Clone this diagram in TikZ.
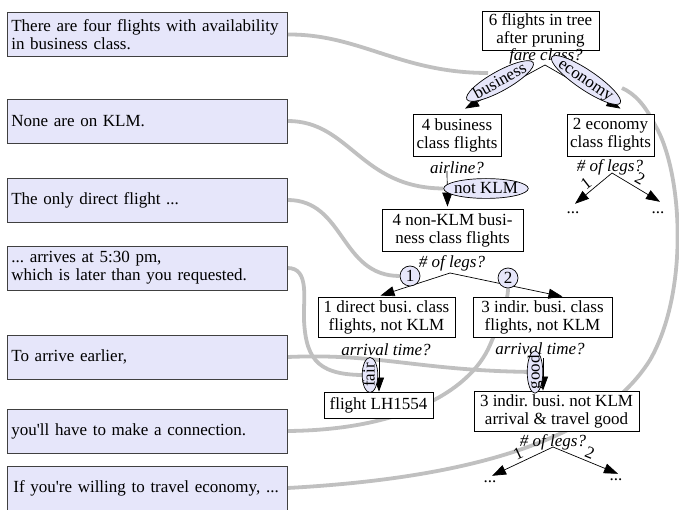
\documentclass[tikz,border=0pt]{standalone}
\usepackage{fontspec}
\setmainfont{Liberation Serif}[Ligatures=TeXOff]
\usetikzlibrary{shapes.geometric,arrows.meta}
\pgfdeclarelayer{background}
\pgfsetlayers{background,main}
\definecolor{lav}{RGB}{230,230,250}
\definecolor{wire}{RGB}{192,192,192}
\frenchspacing
\begin{document}
\begin{tikzpicture}[x=1pt,y=-1pt,
  font=\fontsize{17}{18}\selectfont,
  note/.style={draw=black!75, fill=lav, minimum width=280pt, minimum height=44pt,
    text width=272pt, align=left, inner sep=4pt, anchor=west, line width=0.7pt},
  tnode/.style={draw=black, fill=white, align=center, inner sep=1pt, line width=0.8pt},
  qlab/.style={font=\fontsize{17}{18}\selectfont\itshape, inner sep=0pt},
  elab/.style={ellipse, draw=black, fill=lav, inner xsep=-2pt, inner ysep=0pt,
    text height=12pt, text depth=2pt, line width=0.7pt},
  vlab/.style={elab, rotate=90, text height=10pt, text depth=1pt},
  clab/.style={circle, draw=black, fill=lav, inner sep=0pt, minimum size=20pt, line width=0.7pt},
  arr/.style={draw=black, line width=0.7pt, -{Triangle[length=14pt,width=10pt]}},
  wirestyle/.style={draw=wire, line width=3.8pt},
  dots/.style={inner sep=0pt}
]
\useasboundingbox (0,0) rectangle (679,510);

% left notes
\node[note] (b1) at (7,34.5) {There are four flights with availability\\in business class.};
\node[note] (b2) at (7,121) {None are on KLM.};
\node[note] (b3) at (7,200) {The only direct flight ...};
\node[note] (b4) at (7,268) {... arrives at 5:30 pm,\\which is later than you requested.};
\node[note] (b5) at (7,357) {To arrive earlier,};
\node[note] (b6) at (7,431) {you'll have to make a connection.};
\node[note] (b7) at (7,488) {\hspace{2pt}If you're willing to travel economy, ...};

% tree nodes
\node[tnode, minimum width=117pt, minimum height=39pt] (n6) at (540.5,30.5) {6 flights in tree\\after pruning};
\node[qlab] (q1) at (546,56) {fare class?};
\node[tnode, minimum width=88pt, minimum height=42pt] (nbus) at (457,135) {4 business\\class flights};
\node[tnode, minimum width=87pt, minimum height=42pt] (neco) at (610.5,135) {2 economy\\class flights};
\node[qlab] (q2) at (457,168) {airline?};
\node[qlab] (q3) at (610,167) {\# of legs?};
\node[tnode, minimum width=141pt, minimum height=42pt] (nnk) at (452.5,230) {4 non-KLM busi-\\ness class flights};
\node[qlab] (q4) at (452,263) {\# of legs?};
\node[tnode, minimum width=137pt, minimum height=40pt] (nd) at (386.5,317) {1 direct busi. class\\flights, not KLM};
\node[tnode, minimum width=139pt, minimum height=40pt] (ni) at (542.5,317) {3 indir. busi. class\\flights, not KLM};
\node[qlab] (q5) at (386,350) {arrival time?};
\node[qlab] (q6) at (540,349) {arrival time?};
\node[tnode, minimum width=109pt, minimum height=26pt] (nlh) at (378.5,405) {flight LH1554};
\node[tnode, minimum width=165pt, minimum height=40pt] (ng) at (556.5,411) {3 indir. busi. not KLM\\arrival \& travel good};
\node[qlab] (q7) at (553,442) {\# of legs?};

\node[dots] (d1) at (573,213) {...};
\node[dots] (d2) at (658,213) {...};
\node[dots] (d3) at (490,482) {...};
\node[dots] (d4) at (616,480) {...};

% edge start points
\coordinate (fc) at (545,65);
\coordinate (ap) at (447,171);
\coordinate (lg) at (450,273);
\coordinate (at1) at (379,358);
\coordinate (at2) at (543,358);
\coordinate (el) at (612,173);
\coordinate (bl) at (553,447);

% edges
\draw[arr] (fc) -- ([xshift=8pt,yshift=5pt]nbus.north);
\draw[arr] (fc) -- ([xshift=10pt,yshift=5pt]neco.north);
\draw[arr] (ap) -- ([xshift=-5pt,yshift=2pt]nnk.north);
\draw[arr] (lg) -- ([xshift=-6pt,yshift=1pt]nd.north);
\draw[arr] (lg) -- ([xshift=20pt,yshift=0pt]ni.north);
\draw[arr] (at1) -- ([xshift=0.5pt]nlh.north);
\draw[arr] (at2) -- ([xshift=-13.5pt]ng.north);
\draw[arr] (el) -- ([xshift=2pt,yshift=8pt]d1.north);
\draw[arr] (el) -- ([xshift=2pt,yshift=10pt]d2.north);
\draw[arr] (bl) -- ([xshift=2pt,yshift=5pt]d3.north);
\draw[arr] (bl) -- ([xshift=2pt,yshift=5pt]d4.north);

% edge labels
\node[elab, rotate=29] (lbus) at (500,81) {business};
\node[elab, rotate=-34] (leco) at (586,80) {economy};
\node[elab] (lnk) at (486,188.5) {not KLM};
\node[clab] (l1) at (410,276) {1};
\node[clab] (l2) at (508,278) {2};
\node[vlab, minimum width=35pt] (lfair) at (370,375) {fair};
\node[vlab, minimum width=37pt] (lgood) at (535,372) {good};
\node[dots, rotate=38] (e1) at (586,183) {1};
\node[dots, rotate=-29] (e2) at (640,179) {2};
\node[dots, rotate=25] (e3) at (518,454) {1};
\node[dots, rotate=-22] (e4) at (590,453) {2};

% grey alignment wires
\begin{pgfonlayer}{background}
\draw[wirestyle] (b1.east) .. controls (360,34) and (400,73) .. ([xshift=-12pt,yshift=8pt]lbus.center);
\draw[wirestyle] (b2.east) .. controls (350,121) and (360,188) .. (lnk.west);
\draw[wirestyle] (b3.east) .. controls (345,200) and (340,276) .. (l1.west);
\draw[wirestyle] (b4.east) .. controls (310,268) and (303,300) .. (304,320)
   .. controls (306,362) and (320,376) .. (lfair.center);
\draw[wirestyle] (b5.east) .. controls (380,353) and (420,371) .. (lgood.center);
\draw[wirestyle] (b6.east) .. controls (400,430) and (470,392) .. (490,345)
   .. controls (500,322) and (508,302) .. (l2.south);
\draw[wirestyle] (b7.east) .. controls (470,478) and (600,440) .. (650,360)
   .. controls (690,290) and (682,170) .. (655,125)
   .. controls (645,105) and (635,94) .. ([xshift=36pt,yshift=-8pt]leco.center);
\end{pgfonlayer}
\end{tikzpicture}
\end{document}
